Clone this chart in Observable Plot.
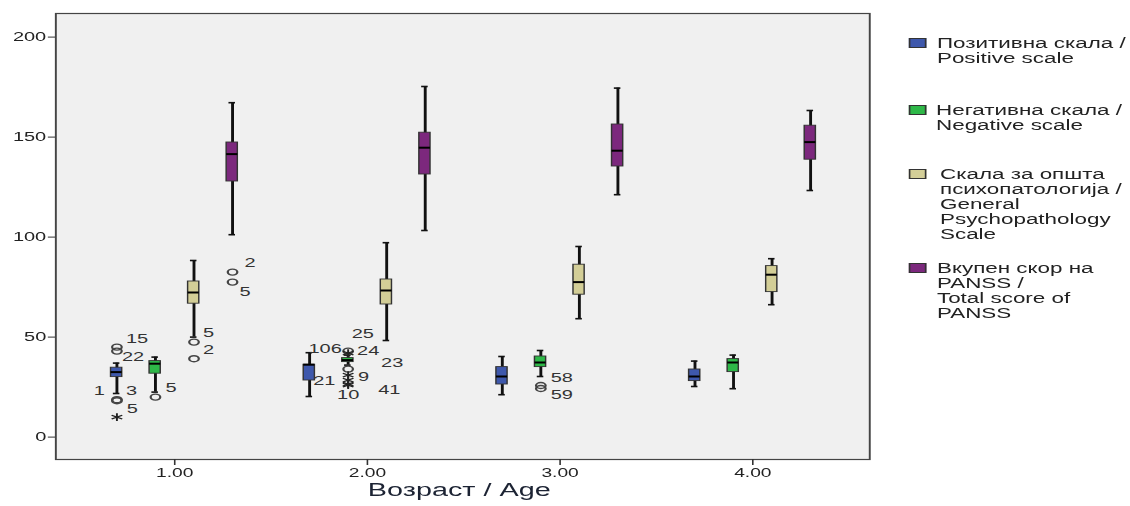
<!DOCTYPE html>
<html>
<head>
<meta charset="utf-8">
<script src="https://cdn.jsdelivr.net/npm/d3@7"></script>
<script src="https://cdn.jsdelivr.net/npm/@observablehq/plot@0.6"></script>
<style>
  html, body { margin: 0; padding: 0; background: #fff; }
  /* the chart is laid out narrow and widened horizontally */
  #chart {
    position: absolute; left: 0; top: 0;
    width: 706.25px; height: 506px;
    transform: scaleX(1.6); transform-origin: 0 0;
    font-family: "Liberation Sans", Arial, sans-serif;
  }
  .legend-text { position: absolute; font-size: 14px; line-height: 15px; color: #222; white-space: nowrap; }
  .swatch { position: absolute; width: 11.5px; height: 10px; border: 1px solid #333; box-sizing: border-box; }
</style>
</head>
<body>
<div id="chart"></div>
<script>
// Age groups on the x axis
const ageGroups = [1, 2, 3, 4];

// PANSS scales (legend text, one entry per line)
const scaleLines = [
  ["Позитивна скала /", "Positive scale"],
  ["Негативна скала /", "Negative scale"],
  ["Скала за општа", "психопатологија /", "General", "Psychopathology", "Scale"],
  ["Вкупен скор на", "PANSS /", "Total score of", "PANSS"]
];
const scaleNames = scaleLines.map(l => l.join(" "));
const scaleColors = ["#3e58ac", "#2eb848", "#d3ce97", "#7c287d"];

// Box summaries per age group: [lower whisker, Q1, median, Q3, upper whisker]
const positiveScale = [
  [21.8, 30.0, 32.5, 34.7, 37.0],
  [20.3, 28.3, 36.2, 36.2, 42.2],
  [21.2, 26.3, 30.3, 35.0, 40.3],
  [25.3, 28.0, 30.3, 33.8, 38.0]
];
const negativeScale = [
  [22.5, 31.7, 36.7, 38.0, 40.0],
  [36.0, 37.5, 38.5, 39.5, 41.0],
  [30.3, 35.0, 37.3, 40.3, 43.3],
  [24.2, 32.5, 37.3, 39.0, 41.0]
];
const generalScale = [
  [50.0, 66.7, 72.3, 77.8, 88.3],
  [48.3, 66.3, 73.3, 78.8, 97.2],
  [59.2, 71.2, 77.5, 86.2, 95.3],
  [66.2, 72.5, 81.2, 85.5, 89.2]
];
const totalScore = [
  [101.2, 127.8, 141.5, 147.3, 167.2],
  [103.3, 131.3, 144.7, 152.2, 175.3],
  [121.2, 135.3, 143.2, 156.3, 174.5],
  [123.3, 138.7, 147.5, 155.7, 163.3]
];

// Outlying cases: age group, scale index, value, case number, marker ("o" outlier, "*" extreme)
const outliers = [
  {age: 1, scale: 0, value: 45.0, id: "15", type: "o"},
  {age: 1, scale: 0, value: 43.0, id: "22", type: "o"},
  {age: 1, scale: 0, value: 18.7, id: "1", type: "o"},
  {age: 1, scale: 0, value: 18.2, id: "3", type: "o"},
  {age: 1, scale: 0, value: 10.0, id: "5", type: "*"},
  {age: 1, scale: 1, value: 20.0, id: "5", type: "o"},
  {age: 1, scale: 2, value: 47.5, id: "5", type: "o"},
  {age: 1, scale: 2, value: 39.2, id: "2", type: "o"},
  {age: 1, scale: 3, value: 82.5, id: "2", type: "o"},
  {age: 1, scale: 3, value: 77.5, id: "5", type: "o"},
  {age: 2, scale: 1, value: 43.0, id: "106", type: "o"},
  {age: 2, scale: 1, value: 42.0, id: "24", type: "*"},
  {age: 2, scale: 1, value: 34.0, id: "23", type: "o"},
  {age: 2, scale: 1, value: 31.0, id: "9", type: "*"},
  {age: 2, scale: 1, value: 28.5, id: "21", type: "*"},
  {age: 2, scale: 1, value: 26.5, id: "41", type: "*"},
  {age: 2, scale: 1, value: 26.0, id: "10", type: "*"},
  {age: 2, scale: 2, value: 48.3, id: "25", type: ""},
  {age: 3, scale: 1, value: 25.8, id: "58", type: "o"},
  {age: 3, scale: 1, value: 24.3, id: "59", type: "o"}
];

// ---- layout ----
const offsets = [-0.3, -0.1, 0.1, 0.3];   // place of each scale inside an age group
const halfBox = 0.029, halfCap = 0.017;
// where each case number sits relative to its marker: [dx, dy, anchor]
const labelNudge = {
  "1-0-15": [5.6, -8, "start"], "1-0-22": [3.1, 6, "start"],
  "1-0-1": [-7.5, -9, "end"], "1-0-3": [5.6, -10, "start"],
  "1-0-5": [6.2, -8, "start"], "1-1-5": [6.2, -8.7, "start"],
  "1-2-5": [5.6, -8.7, "start"], "1-2-2": [5.6, -8.3, "start"],
  "1-3-2": [7.5, -8.7, "start"], "1-3-5": [4.4, 10, "start"],
  "2-1-106": [-4, -2, "end"], "2-1-24": [5.6, -2, "start"],
  "2-1-23": [20.6, -6, "start"], "2-1-9": [6.2, 2, "start"],
  "2-1-21": [-8, 1, "end"], "2-1-41": [18.8, 6, "start"],
  "2-1-10": [0, 10, "middle"], "2-2-25": [-8, -7, "end"],
  "3-1-58": [6.2, -8, "start"], "3-1-59": [6.2, 6, "start"]
};

const stats = [positiveScale, negativeScale, generalScale, totalScore];
const boxes = stats.flatMap((rows, s) => rows.map((r, g) => ({
  scale: scaleNames[s], x: ageGroups[g] + offsets[s],
  lo: r[0], q1: r[1], med: r[2], q3: r[3], hi: r[4]
})));
const points = outliers.map(o => ({...o, x: o.age + offsets[o.scale]}));

const labelMarks = points.map(p => {
  const [dx, dy, anchor] = labelNudge[`${p.age}-${p.scale}-${p.id}`];
  return Plot.text([p], {
    x: "x", y: "value", text: "id", dx, dy, textAnchor: anchor,
    fontSize: 12.5, fill: "#333"
  });
});

const chart = Plot.plot({
  width: 706.25,
  height: 506,
  marginLeft: 34.4,
  marginRight: 163.15,
  marginTop: 13,
  marginBottom: 47,
  style: {fontFamily: "Liberation Sans, Arial, sans-serif", color: "#222", background: "transparent", overflow: "visible"},
  x: {type: "linear", domain: [0.383, 4.607], axis: null},
  y: {domain: [-11.2, 211.8], axis: null},
  color: {type: "ordinal", domain: scaleNames, range: scaleColors},
  marks: [
    Plot.frame({fill: "#f0f0f0"}),
    // whiskers and caps
    Plot.ruleX(boxes, {x: "x", y1: "lo", y2: "hi", stroke: "#111", strokeWidth: 1.8}),
    Plot.ruleY(boxes, {y: "lo", x1: d => d.x - halfCap, x2: d => d.x + halfCap, stroke: "#111", strokeWidth: 1.6}),
    Plot.ruleY(boxes, {y: "hi", x1: d => d.x - halfCap, x2: d => d.x + halfCap, stroke: "#111", strokeWidth: 1.6}),
    // interquartile boxes
    Plot.rect(boxes, {x1: d => d.x - halfBox, x2: d => d.x + halfBox, y1: "q1", y2: "q3",
      fill: "scale", stroke: "#333", strokeWidth: 0.9}),
    // medians
    Plot.ruleY(boxes, {y: "med", x1: d => d.x - halfBox, x2: d => d.x + halfBox, stroke: "#000", strokeWidth: 2}),
    // outliers and extremes
    Plot.dot(points.filter(p => p.type === "o"), {x: "x", y: "value", r: 3, symbol: "circle",
      stroke: "#444", strokeWidth: 1.4, fill: "none"}),
    Plot.dot(points.filter(p => p.type === "*"), {x: "x", y: "value", r: 3.6, symbol: "asterisk",
      stroke: "#222", strokeWidth: 1.2}),
    ...labelMarks,
    Plot.frame({stroke: "#444", strokeWidth: 1.2}),
    Plot.axisY({ticks: [0, 50, 100, 150, 200], tickSize: 4.5, tickPadding: 1.5, fontSize: 12.5, label: null, stroke: "#333"}),
    Plot.axisX({ticks: ageGroups, tickFormat: d => d.toFixed(2), tickSize: 6, tickPadding: 3, fontSize: 12, label: null, stroke: "#333"}),
    Plot.text(["Возраст / Age"], {text: d => d, frameAnchor: "bottom", dx: -2.2, dy: 36.5, fontSize: 18, fill: "#1c2333"})
  ]
});

const root = document.getElementById("chart");
root.appendChild(chart);

// legend on the right, one block per scale
const legendCenters = [43, 110, 174, 268];   // first-line centres
const legendTextLeft = [585.6, 585.0, 587.5, 585.6];
scaleLines.forEach((lines, i) => {
  const sw = document.createElement("div");
  sw.className = "swatch";
  sw.style.left = "567.5px";
  sw.style.top = (legendCenters[i] - 5) + "px";
  sw.style.background = scaleColors[i];
  root.appendChild(sw);
  const tx = document.createElement("div");
  tx.className = "legend-text";
  tx.style.left = legendTextLeft[i] + "px";
  tx.style.top = (legendCenters[i] - 7.5) + "px";
  tx.innerHTML = lines.join("<br>");
  root.appendChild(tx);
});
</script>
</body>
</html>
